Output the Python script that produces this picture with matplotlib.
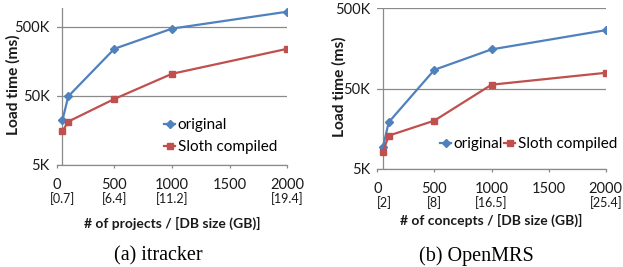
import matplotlib
matplotlib.use("Agg")
import matplotlib.pyplot as plt
import matplotlib.transforms as mtransforms
from matplotlib.ticker import FixedLocator, NullLocator

# itracker
itracker_x = [50, 100, 500, 1000, 2000]
itracker_original = [22200, 49000, 239000, 468000, 822000]
itracker_sloth = [15400, 21200, 45000, 104000, 239000]
itracker_sizes = ["[0.7]", "[6.4]", "[11.2]", "[19.4]"]
itracker_size_pos = [50, 500, 1000, 2000]

# OpenMRS
openmrs_x = [50, 100, 500, 1000, 2000]
openmrs_original = [9400, 19100, 85800, 154000, 267000]
openmrs_sloth = [8200, 13000, 20000, 56000, 78700]
openmrs_sizes = ["[2]", "[8]", "[16.5]", "[25.4]"]
openmrs_size_pos = [60, 500, 1000, 2000]

x_ticks = [0, 500, 1000, 1500, 2000]
y_ticks = [5000, 50000, 500000]
y_labels = ["5K", "50K", "500K"]
y_axis_cross = 50  # value axis crosses the category axis here

BLUE = "#4F81BD"
RED = "#C0504D"
GRID = "#8a8a8a"
TXT = "#1a1a1a"
SANS = ["Lato", "DejaVu Sans"]
SERIF = ["Liberation Serif", "DejaVu Serif"]

W, H = 623, 267
fig = plt.figure(figsize=(W / 100, H / 100), dpi=100)


def fx(px):
    return px / W


def fy(py):
    return 1 - py / H


def panel(box, xs, orig, sloth, sizes, size_pos, ymax, xlabel, xlabel_y,
          ylabel_x, caption, caption_x, legend_anchor, legend_kw):
    left, top, right, bottom = box
    ax = fig.add_axes([fx(left), fy(bottom), (right - left) / W, (bottom - top) / H])
    ax.plot(xs, orig, color=BLUE, marker="D", markersize=3.6, lw=1.6, label="original",
            zorder=3)
    ax.plot(xs, sloth, color=RED, marker="s", markersize=4.6, lw=1.6,
            label="Sloth compiled", zorder=3)
    ax.set_yscale("log")
    ax.set_ylim(5000, ymax)
    ax.set_xlim(0, 2000)
    ax.yaxis.set_major_locator(FixedLocator(y_ticks))
    ax.yaxis.set_minor_locator(NullLocator())
    ax.set_yticklabels(y_labels)
    ax.set_xticks(x_ticks)
    ax.tick_params(axis="y", length=0, labelsize=10.5, colors=TXT, pad=5)
    ax.tick_params(axis="x", length=2.5, width=0.9, color=GRID, labelcolor=TXT,
                   labelsize=10.5, pad=7)
    for lbl in ax.get_xticklabels() + ax.get_yticklabels():
        lbl.set_family(SANS)
    ax.grid(axis="y", color=GRID, lw=0.9)
    ax.grid(axis="x", visible=False)
    ax.set_axisbelow(True)
    for side in ("top", "right", "left"):
        ax.spines[side].set_visible(False)
    ax.spines["bottom"].set_color(GRID)
    ax.spines["bottom"].set_linewidth(0.9)
    ax.axvline(y_axis_cross, color=GRID, lw=0.9, zorder=1)

    # second row of x labels: DB size in GB
    off = mtransforms.ScaledTranslation(0, -34 / 100, fig.dpi_scale_trans)
    trans = mtransforms.blended_transform_factory(ax.transData, ax.transAxes) + off
    for pos, s in zip(size_pos, sizes):
        ax.text(pos, 0, s, transform=trans, ha="center", va="center", fontsize=9,
                family=SANS, color=TXT)

    fig.text(fx((left + right) / 2), fy(xlabel_y), xlabel, ha="center", va="center",
             fontsize=10, fontweight="bold", family=SANS, color=TXT)
    fig.text(fx(ylabel_x), fy((top + bottom) / 2 - 2), "Load time (ms)", rotation=90,
             ha="center", va="center", fontsize=11.2, fontweight="bold", family=SANS,
             color=TXT)
    fig.text(fx(caption_x), fy(256), caption, ha="center", va="center",
             fontsize=14.5, family=SERIF, color="black")

    ax.legend(frameon=False, prop={"family": SANS, "size": 11}, loc="upper left",
              bbox_to_anchor=((legend_anchor[0] - left) / (right - left),
                              1 - (legend_anchor[1] - top) / (bottom - top)),
              borderpad=0, borderaxespad=0, handlelength=0.75, handletextpad=0.15,
              **legend_kw)
    return ax


panel((56.7, 8.3, 287.3, 165), itracker_x, itracker_original, itracker_sloth,
      itracker_sizes, itracker_size_pos, 920000, "# of projects / [DB size (GB)]", 223,
      13, "(a) itracker", 158, (164, 118), dict(ncol=1, labelspacing=0.55))

panel((377.3, 8.3, 605.7, 169), openmrs_x, openmrs_original, openmrs_sloth,
      openmrs_sizes, openmrs_size_pos, 500000, "# of concepts / [DB size (GB)]", 220,
      339, "(b) OpenMRS", 476, (440, 137), dict(ncol=2, columnspacing=0.05))

fig.savefig("out.png", dpi=100)
